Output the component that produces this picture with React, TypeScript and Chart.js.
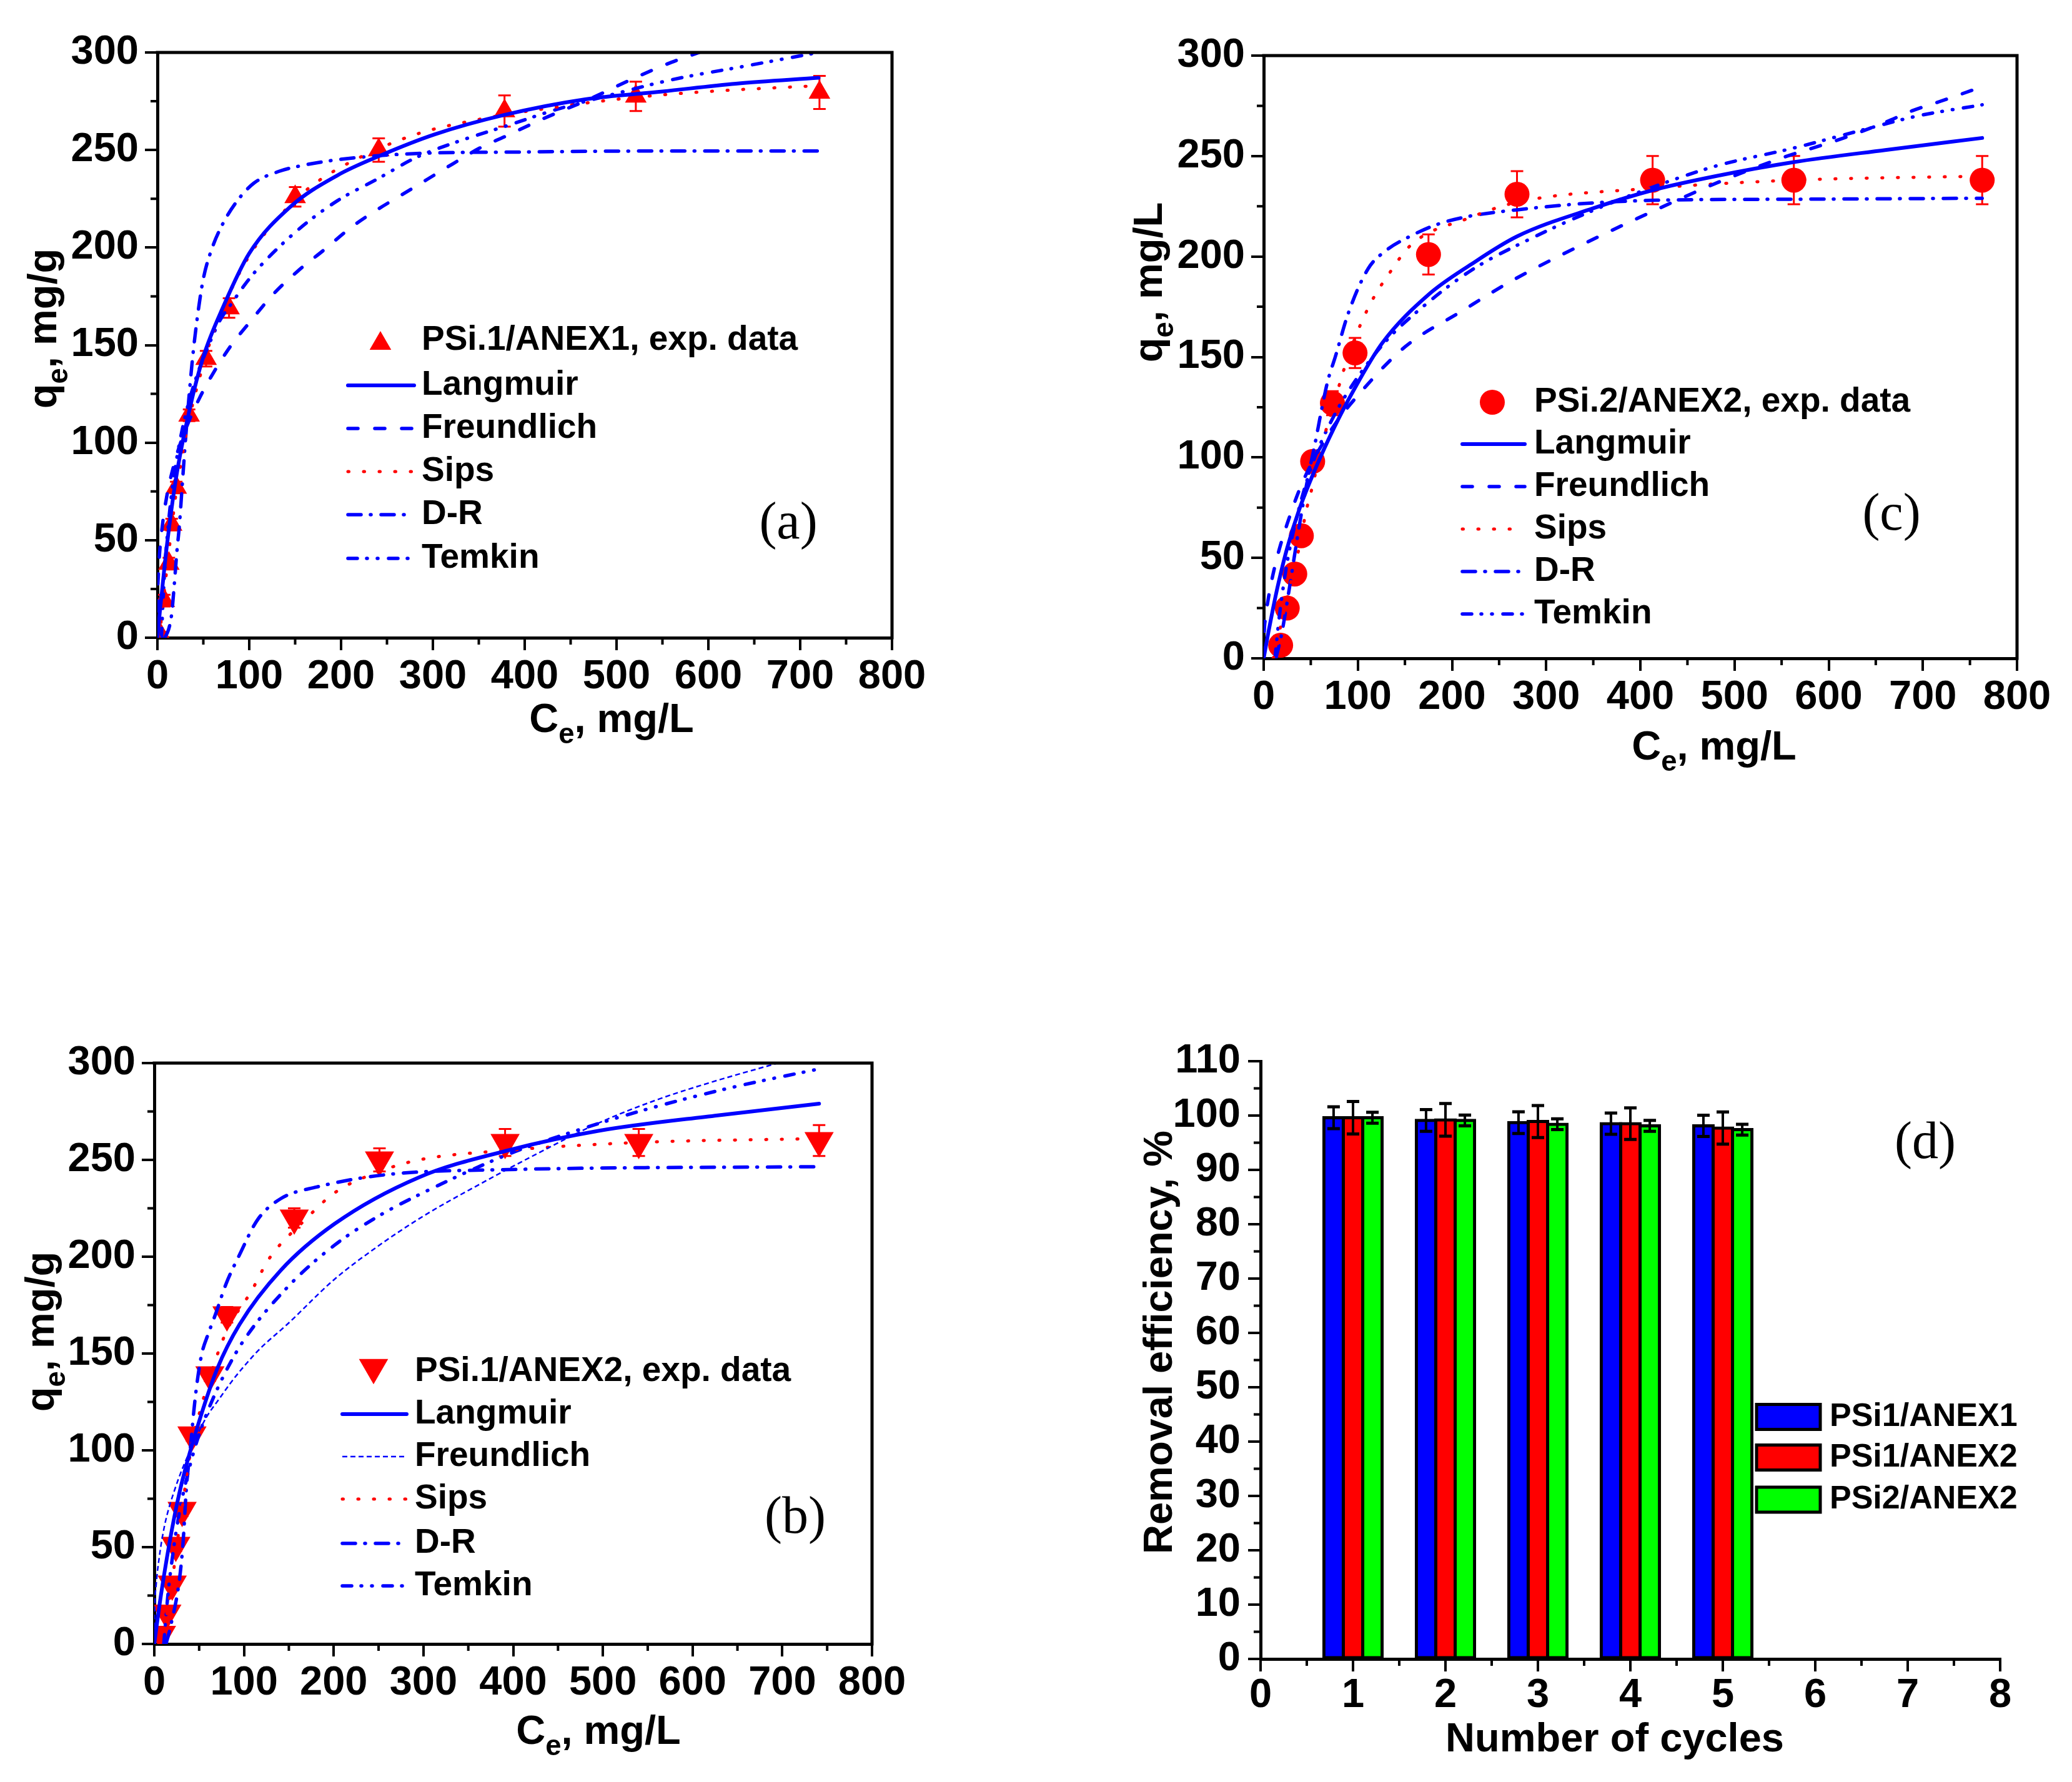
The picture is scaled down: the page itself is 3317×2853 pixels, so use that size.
import { useEffect, useRef } from "react"
import { Chart, registerables } from "chart.js"

Chart.register(...registerables)

const FONT = "'Liberation Sans', Arial, Helvetica, sans-serif"
const SERIF = "'Liberation Serif', 'Times New Roman', Times, serif"
const BLUE = "#0000ff"
const RED = "#ff0000"
const GREEN = "#00ff00"
const BLACK = "#000000"

Chart.defaults.font.family = FONT

type Pt = [number, number]
type Part = [string, boolean]

// ---------- (a) PSi.1/ANEX1 ----------
const aCe = [4, 7.5, 12.5, 15.5, 20.5, 34.5, 53, 78, 150, 241, 378, 521, 721]
const aQe = [1, 19, 38, 58, 77, 114, 143, 169, 226, 250, 270, 277.5, 279.5]
const aErr = [2, 3, 3, 3, 3, 3, 4, 5, 5, 6, 8, 7.5, 8.5]
const aLangmuir: Pt[] = [[0, 0], [3, 15], [5, 24], [10, 46], [20, 81], [35, 117], [50, 144], [72, 170], [100, 197], [145, 221], [196, 237], [242, 247], [302, 258], [378, 268], [466, 276], [550, 280], [630, 284], [720, 287]]
const aFreundlich: Pt[] = [[0, 0], [0.3, 21], [1, 32], [2, 41], [5, 56], [10, 72], [20, 92], [30, 106], [46, 123], [60, 135], [79, 149], [101, 162], [126, 176], [153, 188], [182, 199], [210, 210], [238, 219], [266, 227], [294, 235], [322, 243], [351, 251], [379, 257], [420, 266], [470, 276], [520, 287], [560, 295], [590, 300]]
const aSips: Pt[] = [[1.5, 0], [3, 4], [5, 13], [10, 34], [15, 54], [20, 73], [30, 101], [35, 113], [47, 135], [62, 158], [84, 182], [103, 198], [129, 214], [161, 229], [178, 235], [211, 244], [278, 257.5], [348, 265.5], [450, 273], [520, 277], [600, 280], [720, 283]]
const aDR: Pt[] = [[8, 0], [12, 4], [15.5, 12], [18.5, 28], [21, 43], [24, 58], [27, 78], [31, 104], [38, 142], [44, 166], [50, 184], [59, 199], [71, 212], [87, 224], [105, 233], [132, 239], [157, 242], [196, 245], [272, 248], [400, 249], [560, 249.5], [720, 249.5]]
const aTemkin: Pt[] = [[4.4, 0], [6, 18], [8, 35], [10, 48], [15, 72], [20, 89], [30, 113], [42, 133], [55, 149], [68.5, 163], [81, 171.5], [96, 181.5], [111, 190], [153, 209], [196, 224], [239, 235], [281, 246], [325, 254], [381, 262.5], [436, 271], [500, 279], [560, 286], [640, 293], [720, 300]]

// ---------- (b) PSi.1/ANEX2 ----------
const bCe = [8, 14, 20, 24, 31, 42, 62, 81, 156, 251, 391, 540, 741]
const bQe = [5, 16, 31, 51, 69, 108, 139, 170, 220, 250, 259, 259, 260]
const bErr = [2, 2, 3, 3, 3, 3, 3, 4, 5, 6, 7, 7, 8]
const bLangmuir: Pt[] = [[0, 0], [5, 17.5], [10, 33], [20, 60], [30, 82], [48, 112], [70, 142], [95, 165], [141, 193], [201, 217], [295, 241], [395, 255], [495, 265], [628, 273], [741, 279]]
const bFreundlich: Pt[] = [[0, 0], [0.5, 18], [2, 30], [5.6, 45], [11.4, 61], [23, 80], [40, 100], [58, 117], [73, 127], [87, 136], [103, 145], [119, 153], [148, 165], [200, 188], [248, 205], [300, 221], [361, 237], [430, 254], [495, 269], [560, 281], [620, 290], [695, 300]]
const bSips: Pt[] = [[6, 0], [10, 5], [15, 18], [20, 32], [24, 47], [31, 70], [42, 104], [52, 122], [62, 138], [81, 162], [108, 182], [128, 199], [168, 219], [201, 233], [251, 244], [295, 250], [395, 255], [540, 259], [741, 261]]
const bDR: Pt[] = [[13, 0], [16, 5], [20, 13], [25, 24], [29, 37], [32, 52], [36, 82], [40, 100], [44, 120], [48, 136], [53, 150], [60, 160], [68, 170], [80, 186], [95, 201], [115, 219], [141, 230], [181, 236], [261, 242.5], [395, 245], [741, 246.5]]
const bTemkin: Pt[] = [[10.6, 0], [13, 14], [16, 29], [20, 44], [25, 60], [31, 75], [42, 96], [52, 111], [62, 123], [80, 141], [100, 157], [150, 185], [201, 206], [250, 221], [295, 232], [395, 253], [450, 262], [540, 275], [640, 287], [741, 297]]

// ---------- (c) PSi.2/ANEX2 ----------
const cCe = [18, 25, 33, 40, 52, 73, 97, 175, 269, 413, 563, 763]
const cQe = [6.5, 25, 42, 61, 98, 127, 152, 201, 231, 238, 238, 238]
const cErr = [2, 3, 2, 2, 3, 6, 7.5, 10, 11.5, 12, 12, 12]
const cLangmuir: Pt[] = [[0, 0], [5, 13], [10, 25], [15.7, 37.5], [25, 55], [37.7, 74], [55, 94.5], [75, 115], [95, 133], [126, 157], [175, 181], [220, 196], [269, 210], [350, 224], [413, 233], [480, 240], [563, 247], [660, 253], [763, 259]]
const cFreundlich: Pt[] = [[0, 0], [0.5, 12], [2, 20], [5, 30], [10, 42], [17, 55], [25, 67], [38, 84], [52, 98], [75, 116], [104, 133], [150, 155], [211, 173], [260, 187], [317, 201], [397, 219], [483, 237], [550, 249], [616, 259], [661, 267], [689, 272.6], [717, 277], [760, 284]]
const cSips: Pt[] = [[10, 0], [14, 5], [18, 16], [25, 30], [33, 46], [40, 60], [44, 71], [52, 86], [64, 110], [69, 118], [79, 134], [84, 142], [100, 163], [115, 178], [131, 190], [157, 206], [217, 219], [269, 227], [413, 234], [563, 238], [763, 240]]
const cDR: Pt[] = [[13, 0], [19, 12], [28, 37], [34, 55], [40, 72], [47, 90], [55, 108], [62, 125], [68, 138], [76, 150], [90, 172], [111, 194], [130, 203], [151, 209], [191, 217], [284, 224], [417, 228], [560, 228.5], [763, 229]]
const cTemkin: Pt[] = [[12, 0], [15, 14], [18, 26], [25, 48], [35, 70], [52, 97], [75, 121], [100, 140], [130, 158], [164, 173], [220, 193], [284, 209], [350, 223], [410, 234], [480, 245], [563, 254], [636, 263], [695, 270], [763, 275.5]]

const modelNames = ["Langmuir", "Freundlich", "Sips", "D-R", "Temkin"]

// ---------- (d) reuse cycles ----------
const cycles = [1, 2, 3, 4, 5]
const dNames = ["PSi1/ANEX1", "PSi1/ANEX2", "PSi2/ANEX2"]
const dPsi1Anex1 = [99.6, 99.1, 98.7, 98.5, 98.1]
const dPsi1Anex2 = [99.6, 99.2, 98.9, 98.5, 97.7]
const dPsi2Anex2 = [99.6, 99.1, 98.4, 98.1, 97.4]
const dErr1 = [2.0, 2.0, 2.0, 1.95, 1.95]
const dErr2 = [3.0, 3.0, 2.95, 2.9, 2.95]
const dErr3 = [1.0, 1.0, 1.0, 1.0, 1.0]

// minor tick positions
const ceMinor = [50, 150, 250, 350, 450, 550, 650, 750]
const qeMinor = [25, 75, 125, 175, 225, 275]
const cycleMinor = [0.5, 1.5, 2.5, 3.5, 4.5, 5.5, 6.5, 7.5]
const effMinor = [5, 15, 25, 35, 45, 55, 65, 75, 85, 95, 105]

interface LineStyle { color: string; width: number; dash: number[]; cap: CanvasLineCap }

const langmuirStyle: LineStyle = { color: BLUE, width: 6, dash: [], cap: "round" }
const freundlichStyle: LineStyle = { color: BLUE, width: 5.5, dash: [16, 27], cap: "round" }
const thinFreundlichStyle: LineStyle = { color: BLUE, width: 2.5, dash: [8, 5], cap: "butt" }
const sipsStyle: LineStyle = { color: RED, width: 5, dash: [1.5, 23.5], cap: "round" }
const drStyle: LineStyle = { color: BLUE, width: 5.5, dash: [21, 15, 1, 16], cap: "round" }
const temkinStyle: LineStyle = { color: BLUE, width: 5.5, dash: [15, 15, 1, 16, 1, 17], cap: "round" }

const TICK_FONT = { family: FONT, size: 65, weight: "bold" as const }
const TITLE_SIZE = 65
const LEGEND_SIZE = 55

function drawRich(ctx: CanvasRenderingContext2D, parts: Part[], size: number, cx: number, baseline: number) {
  const sizes = parts.map(([, sub]) => (sub ? size * 0.7 : size))
  let total = 0
  parts.forEach(([t], i) => {
    ctx.font = `bold ${sizes[i]}px ${FONT}`
    total += ctx.measureText(t).width
  })
  let x = cx - total / 2
  ctx.textAlign = "left"
  ctx.textBaseline = "alphabetic"
  ctx.fillStyle = BLACK
  parts.forEach(([t, sub], i) => {
    ctx.font = `bold ${sizes[i]}px ${FONT}`
    ctx.fillText(t, x, baseline + (sub ? size * 0.27 : 0))
    x += ctx.measureText(t).width
  })
}

function drawTitles(ctx: CanvasRenderingContext2D, yParts: Part[], yAt: number[], xParts: Part[], xAt: number[]) {
  ctx.save()
  ctx.translate(yAt[0], yAt[1])
  ctx.rotate(-Math.PI / 2)
  drawRich(ctx, yParts, TITLE_SIZE, 0, 0)
  ctx.restore()
  ctx.save()
  drawRich(ctx, xParts, TITLE_SIZE, xAt[0], xAt[1])
  ctx.restore()
}

function drawMinor(chart: any, minorX: number[], minorY: number[]) {
  const { ctx, chartArea: a, scales } = chart
  ctx.save()
  ctx.strokeStyle = BLACK
  ctx.lineWidth = 4
  ctx.beginPath()
  minorX.forEach((v) => {
    const p = scales.x.getPixelForValue(v)
    ctx.moveTo(p, a.bottom)
    ctx.lineTo(p, a.bottom + 11)
  })
  minorY.forEach((v) => {
    const p = scales.y.getPixelForValue(v)
    ctx.moveTo(a.left, p)
    ctx.lineTo(a.left - 11, p)
  })
  ctx.stroke()
  ctx.restore()
}

function drawLetter(ctx: CanvasRenderingContext2D, text: string, at: number[]) {
  ctx.save()
  ctx.font = `84px ${SERIF}`
  ctx.fillStyle = BLACK
  ctx.textAlign = "center"
  ctx.textBaseline = "middle"
  ctx.fillText(text, at[0], at[1])
  ctx.restore()
}

function markerPath(ctx: CanvasRenderingContext2D, kind: string, x: number, y: number, r: number) {
  ctx.beginPath()
  if (kind === "circle") {
    ctx.arc(x, y, r, 0, Math.PI * 2)
  } else {
    const s = kind === "up" ? 1 : -1
    ctx.moveTo(x, y - s * r)
    ctx.lineTo(x + 0.866 * r, y + s * 0.5 * r)
    ctx.lineTo(x - 0.866 * r, y + s * 0.5 * r)
    ctx.closePath()
  }
}

function axisScale(min: number, max: number, step: number, pad: number, fit: (s: any) => void) {
  return {
    type: "linear",
    min,
    max,
    afterFit: fit,
    ticks: { stepSize: step, font: TICK_FONT, color: BLACK, padding: pad, maxRotation: 0, autoSkip: false },
    grid: { display: true, drawOnChartArea: false, drawTicks: true, tickLength: 20, lineWidth: 4, color: BLACK, offset: false },
    border: { display: true, width: 5, color: BLACK },
  }
}

interface ScatterSpec {
  box: number[]
  area: number[]
  ce: number[]
  qe: number[]
  err: number[]
  marker: string
  markerR: number
  expLabel: string
  curves: Pt[][]
  styles: LineStyle[]
  yTitle: Part[]
  yTitleAt: number[]
  xTitleAt: number[]
  legend: { markerX: number; x0: number; x1: number; textX: number; rows: number[] }
  letter: string
  letterAt: number[]
}

const ceTitle: Part[] = [["C", false], ["e", true], [", mg/L", false]]

function scatterConfig(s: ScatterSpec) {
  const W = s.box[2]
  const H = s.box[3]
  const [l, t, r, b] = s.area
  const datasets: any[] = s.curves.map((pts, i) => ({
    label: modelNames[i],
    data: pts.map(([x, y]) => ({ x, y })),
    showLine: true,
    pointRadius: 0,
    borderColor: s.styles[i].color,
    borderWidth: s.styles[i].width,
    borderDash: s.styles[i].dash,
    borderCapStyle: s.styles[i].cap,
    borderJoinStyle: "round",
    cubicInterpolationMode: "monotone",
    fill: false,
    order: i,
  }))
  datasets.push({
    label: s.expLabel,
    data: s.ce.map((x, i) => ({ x, y: s.qe[i] })),
    showLine: false,
    pointStyle: s.marker === "circle" ? "circle" : "triangle",
    pointRotation: s.marker === "down" ? 180 : 0,
    pointRadius: s.markerR,
    pointBackgroundColor: RED,
    pointBorderColor: RED,
    pointBorderWidth: 0,
    order: 10,
  })

  const decor = {
    id: "decor",
    beforeDatasetsDraw(chart: any) {
      const { ctx, chartArea: a, scales } = chart
      ctx.save()
      ctx.beginPath()
      ctx.rect(a.left, a.top, a.right - a.left, a.bottom - a.top)
      ctx.clip()
      ctx.strokeStyle = RED
      ctx.lineWidth = 3
      ctx.beginPath()
      s.ce.forEach((x, i) => {
        const px = scales.x.getPixelForValue(x)
        const top = scales.y.getPixelForValue(s.qe[i] + s.err[i])
        const bot = scales.y.getPixelForValue(s.qe[i] - s.err[i])
        ctx.moveTo(px, top)
        ctx.lineTo(px, bot)
        ctx.moveTo(px - 10, top)
        ctx.lineTo(px + 10, top)
        ctx.moveTo(px - 10, bot)
        ctx.lineTo(px + 10, bot)
      })
      ctx.stroke()
      ctx.restore()
    },
    afterDraw(chart: any) {
      const { ctx, chartArea: a } = chart
      // top/right frame
      ctx.save()
      ctx.strokeStyle = BLACK
      ctx.lineWidth = 5
      ctx.lineCap = "square"
      ctx.beginPath()
      ctx.moveTo(a.left, a.top)
      ctx.lineTo(a.right, a.top)
      ctx.lineTo(a.right, a.bottom)
      ctx.stroke()
      ctx.restore()
      drawMinor(chart, ceMinor, qeMinor)
      drawTitles(ctx, s.yTitle, s.yTitleAt, ceTitle, s.xTitleAt)

      // legend
      const L = s.legend
      ctx.save()
      ctx.fillStyle = RED
      const r0 = L.rows[0]
      const shift = s.marker === "up" ? s.markerR / 4 : s.marker === "down" ? -s.markerR / 4 : 0
      markerPath(ctx, s.marker, L.markerX, r0 + shift, s.markerR)
      ctx.fill()
      ctx.font = `bold ${LEGEND_SIZE}px ${FONT}`
      ctx.textAlign = "left"
      ctx.textBaseline = "middle"
      ctx.fillStyle = BLACK
      ctx.fillText(s.expLabel, L.textX, r0)
      s.styles.forEach((st, i) => {
        const yy = L.rows[i + 1]
        ctx.save()
        ctx.strokeStyle = st.color
        ctx.lineWidth = st.width
        ctx.lineCap = st.cap
        ctx.setLineDash(st.dash)
        ctx.beginPath()
        ctx.moveTo(L.x0, yy)
        ctx.lineTo(L.x1, yy)
        ctx.stroke()
        ctx.restore()
        ctx.fillText(modelNames[i], L.textX, yy)
      })
      ctx.restore()
      drawLetter(ctx, s.letter, s.letterAt)
    },
  }

  return {
    type: "scatter",
    data: { datasets },
    options: {
      responsive: false,
      devicePixelRatio: 1,
      animation: false,
      events: [],
      layout: { padding: { left: 0, top: t, right: W - r, bottom: H - b - 150 } },
      plugins: { legend: { display: false }, tooltip: { enabled: false } },
      scales: {
        x: axisScale(0, 800, 100, 4, (sc: any) => { sc.height = 150 }),
        y: axisScale(0, 300, 50, 10, (sc: any) => { sc.width = l }),
      },
    },
    plugins: [decor],
  }
}

const specA: ScatterSpec = {
  box: [0, 0, 1650, 1300],
  area: [252, 84, 1428, 1021],
  ce: aCe, qe: aQe, err: aErr,
  marker: "up", markerR: 20, expLabel: "PSi.1/ANEX1, exp. data",
  curves: [aLangmuir, aFreundlich, aSips, aDR, aTemkin],
  styles: [langmuirStyle, freundlichStyle, sipsStyle, drStyle, temkinStyle],
  yTitle: [["q", false], ["e", true], [", mg/g", false]],
  yTitleAt: [90, 526],
  xTitleAt: [979, 1172],
  legend: { markerX: 609, x0: 557, x1: 663, textX: 675, rows: [545, 617, 686, 755, 824, 894] },
  letter: "(a)", letterAt: [1262, 840],
}

const specC: ScatterSpec = {
  box: [1650, 0, 1667, 1300],
  area: [373, 89, 1579, 1054],
  ce: cCe, qe: cQe, err: cErr,
  marker: "circle", markerR: 20, expLabel: "PSi.2/ANEX2, exp. data",
  curves: [cLangmuir, cFreundlich, cSips, cDR, cTemkin],
  styles: [langmuirStyle, freundlichStyle, sipsStyle, drStyle, temkinStyle],
  yTitle: [["q", false], ["e", true], [", mg/L", false]],
  yTitleAt: [210, 452],
  xTitleAt: [1094, 1216],
  legend: { markerX: 739, x0: 691, x1: 791, textX: 806, rows: [644, 711, 779, 847, 915, 983] },
  letter: "(c)", letterAt: [1378, 826],
}

const specB: ScatterSpec = {
  box: [0, 1450, 1650, 1403],
  area: [247, 252, 1396, 1182],
  ce: bCe, qe: bQe, err: bErr,
  marker: "down", markerR: 27, expLabel: "PSi.1/ANEX2, exp. data",
  curves: [bLangmuir, bFreundlich, bSips, bDR, bTemkin],
  styles: [langmuirStyle, thinFreundlichStyle, sipsStyle, drStyle, temkinStyle],
  yTitle: [["q", false], ["e", true], [", mg/g", false]],
  yTitleAt: [86, 682],
  xTitleAt: [958, 1342],
  legend: { markerX: 598, x0: 548, x1: 651, textX: 664, rows: [746, 814, 882, 950, 1021, 1089] },
  letter: "(b)", letterAt: [1273, 982],
}

const makeA = () => scatterConfig(specA)
const makeB = () => scatterConfig(specB)
const makeC = () => scatterConfig(specC)

const boxD = [1650, 1450, 1667, 1403]

function makeD() {
  const W = boxD[2]
  const H = boxD[3]
  const [l, t, r, b] = [368, 249, 1552, 1206]
  const values = [dPsi1Anex1, dPsi1Anex2, dPsi2Anex2]
  const errs = [dErr1, dErr2, dErr3]
  const colors = [BLUE, RED, GREEN]
  const datasets = values.map((vals, i) => ({
    label: dNames[i],
    data: cycles.map((c, j) => ({ x: c, y: vals[j] })),
    backgroundColor: colors[i],
    borderColor: BLACK,
    borderWidth: 5,
    borderSkipped: false,
    inflateAmount: 2.5,
    categoryPercentage: 0.63,
    barPercentage: 1,
  }))

  const decor = {
    id: "decorD",
    afterDatasetsDraw(chart: any) {
      const { ctx, scales } = chart
      ctx.save()
      ctx.strokeStyle = BLACK
      values.forEach((vals, i) => {
        const meta = chart.getDatasetMeta(i)
        vals.forEach((v, j) => {
          const el = meta.data[j]
          const top = scales.y.getPixelForValue(v + errs[i][j])
          const bot = scales.y.getPixelForValue(v - errs[i][j])
          ctx.lineWidth = 4
          ctx.beginPath()
          ctx.moveTo(el.x, top)
          ctx.lineTo(el.x, bot)
          ctx.stroke()
          ctx.lineWidth = 5
          ctx.beginPath()
          ctx.moveTo(el.x - 10, top)
          ctx.lineTo(el.x + 10, top)
          ctx.moveTo(el.x - 10, bot)
          ctx.lineTo(el.x + 10, bot)
          ctx.stroke()
        })
      })
      ctx.restore()
    },
    afterDraw(chart: any) {
      const { ctx } = chart
      drawMinor(chart, cycleMinor, effMinor)
      drawTitles(ctx, [["Removal efficiency, %", false]], [226, 699], [["Number of cycles", false]], [935, 1354])
      // legend boxes
      const rows = [818.5, 883.5, 951]
      ctx.save()
      ctx.font = `bold 52px ${FONT}`
      ctx.textAlign = "left"
      ctx.textBaseline = "middle"
      rows.forEach((yy, i) => {
        ctx.fillStyle = colors[i]
        ctx.fillRect(1162, yy - 20, 102, 40)
        ctx.strokeStyle = BLACK
        ctx.lineWidth = 5
        ctx.strokeRect(1162, yy - 20, 102, 40)
        ctx.fillStyle = BLACK
        ctx.fillText(dNames[i], 1279, yy)
      })
      ctx.restore()
      drawLetter(ctx, "(d)", [1432, 382])
    },
  }

  return {
    type: "bar",
    data: { datasets },
    options: {
      responsive: false,
      devicePixelRatio: 1,
      animation: false,
      events: [],
      layout: { padding: { left: 0, top: t, right: W - r, bottom: H - b - 150 } },
      plugins: { legend: { display: false }, tooltip: { enabled: false } },
      scales: {
        x: { ...axisScale(0, 8, 1, 0, (sc: any) => { sc.height = 150 }), offset: false },
        y: axisScale(0, 110, 10, 12, (sc: any) => { sc.width = l }),
      },
    },
    plugins: [decor],
  }
}

function ChartBox({ box, make }: { box: number[]; make: () => any }) {
  const ref = useRef<HTMLCanvasElement>(null)
  useEffect(() => {
    if (!ref.current) return
    const chart = new Chart(ref.current, make())
    return () => chart.destroy()
  }, [make])
  const [left, top, width, height] = box
  return (
    <div style={{ position: "absolute", left, top, width, height }}>
      <canvas ref={ref} width={width} height={height} style={{ width, height, display: "block" }} />
    </div>
  )
}

export default function App() {
  return (
    <div style={{ position: "absolute", left: 0, top: 0, width: 3317, height: 2853, background: "#fff", overflow: "hidden" }}>
      <ChartBox box={specA.box} make={makeA} />
      <ChartBox box={specC.box} make={makeC} />
      <ChartBox box={specB.box} make={makeB} />
      <ChartBox box={boxD} make={makeD} />
    </div>
  )
}
